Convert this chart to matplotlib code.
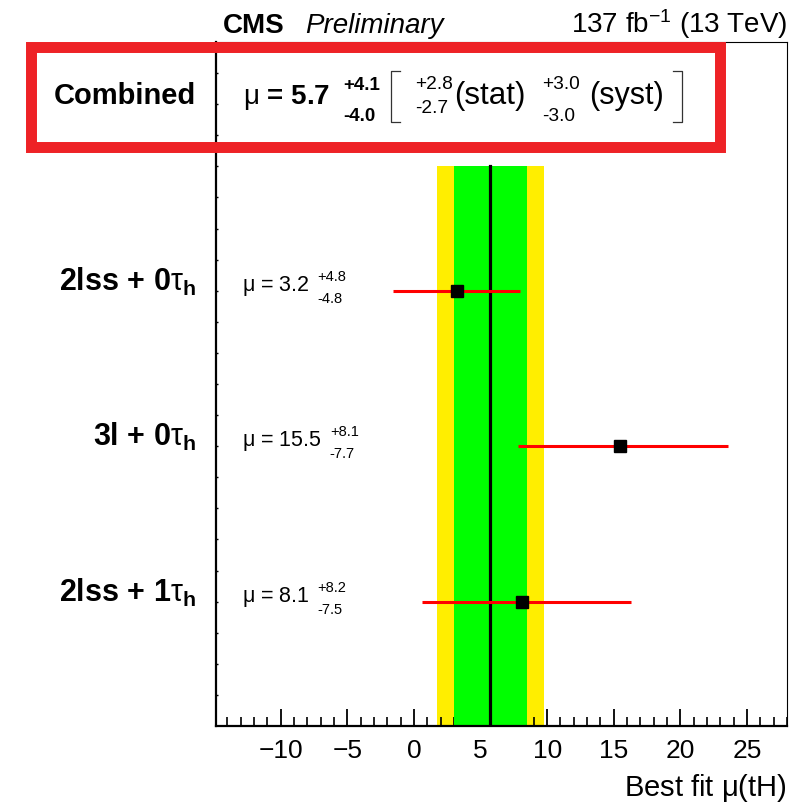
import matplotlib
matplotlib.use("Agg")
import matplotlib.pyplot as plt
from matplotlib.lines import Line2D
from matplotlib.patches import Rectangle
from matplotlib.ticker import MultipleLocator
from matplotlib.transforms import IdentityTransform, blended_transform_factory

plt.rcParams["font.family"] = ["Liberation Sans", "DejaVu Sans"]
plt.rcParams["mathtext.fontset"] = "custom"
plt.rcParams["mathtext.rm"] = "Liberation Sans"
plt.rcParams["mathtext.it"] = "Liberation Sans:italic"
plt.rcParams["mathtext.bf"] = "Liberation Sans:bold"

# channel results
channels = [
    r"2lss + 0$\mathrm{\tau}_\mathbf{h}$",
    r"3l + 0$\mathrm{\tau}_\mathbf{h}$",
    r"2lss + 1$\mathrm{\tau}_\mathbf{h}$",
]
mu = [3.2, 15.5, 8.1]
err_up = [4.8, 8.1, 8.2]
err_dn = [4.8, 7.7, 7.5]
row_y = [14, 9, 4]

# combined result
comb_mu = 5.7
comb_up, comb_dn = 4.1, 4.0
stat_up, stat_dn = 2.8, 2.7
syst_up, syst_dn = 3.0, 3.0
comb_y = 20
band_top = 18

W, H = 809, 806
YELLOW = "#ffee00"
GREEN = "#00ff00"
BOXRED = "#ee2226"

fig = plt.figure(figsize=(W / 100, H / 100), dpi=100)
fig.patch.set_facecolor("white")
ax = fig.add_axes([216 / W, 1 - 726 / H, 571 / W, 684 / H])
ax.set_xlim(-14.85, 28.0)
ax.set_ylim(0, 22)

# total and stat-only bands around the combined value
ax.fill_betweenx([0, band_top], comb_mu - comb_dn, comb_mu + comb_up,
                 color=YELLOW, lw=0, zorder=1)
ax.fill_betweenx([0, band_top], comb_mu - stat_dn, comb_mu + stat_up,
                 color=GREEN, lw=0, zorder=2)
ax.plot([comb_mu, comb_mu], [0, band_top], color="black", lw=2.3, zorder=3)

ax.errorbar(mu, row_y, xerr=[err_dn, err_up], fmt="s", color="black",
            ecolor="red", elinewidth=2.2, capsize=0, ms=8.6, zorder=4)

# axes styling
ax.xaxis.set_major_locator(MultipleLocator(5))
ax.xaxis.set_minor_locator(MultipleLocator(1))
ax.tick_params(axis="x", which="major", direction="in", length=12, width=1.3,
               labelsize=19, pad=9, top=False)
ax.tick_params(axis="x", which="minor", direction="in", length=6.5, width=1.2,
               top=False)
ax.set_yticks(range(1, 22))
ax.set_yticklabels([])
ax.tick_params(axis="y", which="major", direction="in", length=1.5, width=1,
               right=False)
for side in ("left", "bottom"):
    ax.spines[side].set_linewidth(1.6)
for side in ("top", "right"):
    ax.spines[side].set_linewidth(0.8)

blend = blended_transform_factory(ax.transAxes, ax.transData)
renderer = fig.canvas.get_renderer()
ident = IdentityTransform()


def x_after(artist, gap):
    return artist.get_window_extent(renderer).x1 + gap


def base_y(yv):
    return ax.transData.transform((0, yv))[1]


def stack(x, y0, up, dn, size, dy_up, dy_dn, weight="normal"):
    t1 = fig.text(x, y0 + dy_up, f"+{up:.1f}", transform=ident, size=size,
                  weight=weight, va="baseline")
    t2 = fig.text(x, y0 - dy_dn, f"-{dn:.1f}", transform=ident, size=size,
                  weight=weight, va="baseline")
    return max(x_after(t1, 0), x_after(t2, 0))


# per-channel rows
for name, m, up, dn, y in zip(channels, mu, err_up, err_dn, row_y):
    ax.text(-0.035, y, name, transform=blend, ha="right", va="baseline",
            weight="bold", size=22)
    t = ax.text(0.0455, y, rf"$\mathrm{{\mu}}$ = {m}", transform=blend,
                va="baseline", size=15.5)
    stack(x_after(t, 8), base_y(y), up, dn, 10.5, 10, 12)

# combined row
yb = base_y(comb_y)
ax.text(-0.035, comb_y, "Combined", transform=blend, ha="right",
        va="baseline", weight="bold", size=21)
t = ax.text(0.047, comb_y, rf"$\mathrm{{\mu}}$ = {comb_mu}", transform=blend,
            va="baseline", size=20, weight="bold")
x = stack(x_after(t, 13), yb, comb_up, comb_dn, 13.5, 14, 17, weight="bold")

bl = x + 11
x = stack(bl + 24, yb, stat_up, stat_dn, 13.8, 15, 9)
t = fig.text(x + 2, yb, "(stat)", transform=ident, size=22.5, va="baseline")
x = stack(x_after(t, 16), yb, syst_up, syst_dn, 13.8, 15, 17)
t = fig.text(x + 9, yb, "(syst)", transform=ident, size=22, va="baseline")
br = x_after(t, 9)

y_lo, y_hi = H - 122, H - 71
for xs in ([bl + 9, bl, bl, bl + 9], [br, br + 9, br + 9, br]):
    fig.add_artist(Line2D(xs, [y_hi, y_hi, y_lo, y_lo], transform=ident,
                          color="#333333", lw=0.9))

fig.add_artist(Rectangle((30.5, H - 146.5), 689, 100, transform=ident,
                         fill=False, edgecolor=BOXRED, lw=7.9, zorder=10))

# header and axis title
fig.text(223 / W, 1 - 33 / H, "CMS", weight="bold", size=20, va="baseline")
fig.text(305 / W, 1 - 33 / H, "Preliminary", style="italic", size=20,
         va="baseline")
fig.text(787 / W, 1 - 33 / H, r"137 fb$^{-1}$ (13 TeV)", ha="right", size=20,
         va="baseline")
fig.text(787 / W, 1 - 796 / H, r"Best fit $\mathrm{\mu}$(tH)", ha="right",
         size=21, va="baseline")

fig.savefig("out.png", dpi=100)
